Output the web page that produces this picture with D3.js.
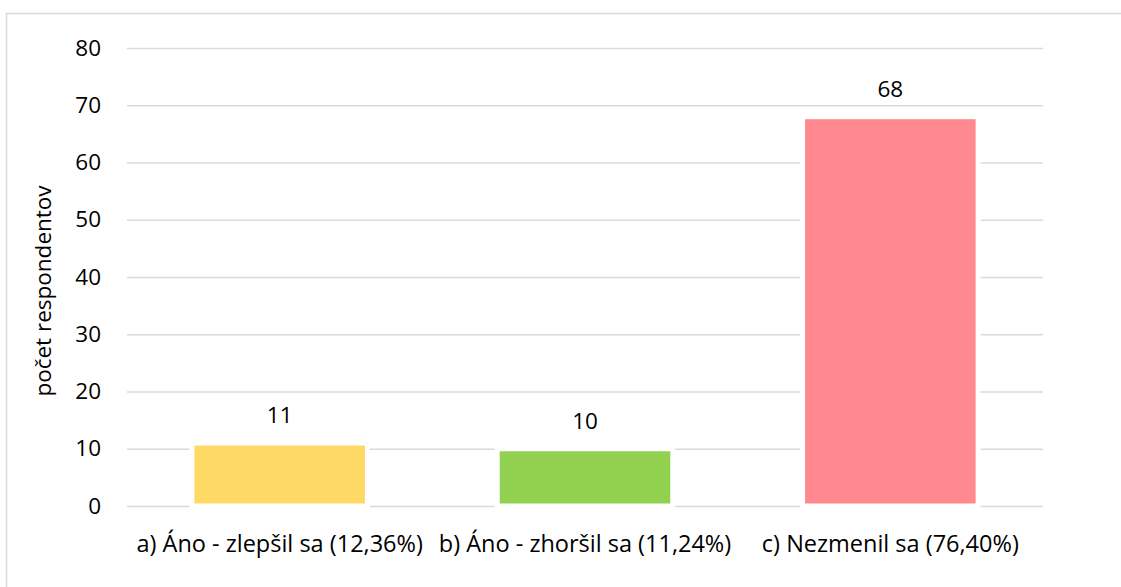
<!DOCTYPE html>
<html>
<head>
<meta charset="utf-8">
<script src="https://cdn.jsdelivr.net/npm/d3@7"></script>
<style>
  html, body { margin: 0; padding: 0; background: #fff; }
  svg { display: block; }
  text { font-family: "Open Sans", "Noto Sans", sans-serif; fill: #000; }
</style>
</head>
<body>
<svg id="chart" width="1121" height="587"></svg>
<script>
const categories = ["a) Áno - zlepšil sa (12,36%)", "b) Áno - zhoršil sa (11,24%)", "c) Nezmenil sa (76,40%)"];
const values = [11, 10, 68];
const colors = ["#FFD966", "#92D050", "#FF898E"];
const yTicks = [0, 10, 20, 30, 40, 50, 60, 70, 80];
const yTitle = "počet respondentov";

const FS = "22.5px";
const FSX = "23.5px";
const svg = d3.select("#chart");
const W = 1121, H = 587;
const margin = { left: 127, right: 1121 - 1043, top: 48, bottom: 587 - 506 };

// outer frame
svg.append("rect")
  .attr("x", 6.5).attr("y", 13.5)
  .attr("width", W + 20).attr("height", H + 20)
  .attr("fill", "#fff").attr("stroke", "#d9d9d9").attr("stroke-width", 1.5);

const x = d3.scaleBand()
  .domain(categories)
  .range([margin.left, W - margin.right])
  .paddingInner(0.425)
  .paddingOuter(0.2125);

const y = d3.scaleLinear()
  .domain([0, 80])
  .range([H - margin.bottom, margin.top]);

// gridlines
const yAxis = d3.axisLeft(y).tickValues(yTicks).tickSize(-(W - margin.left - margin.right)).tickPadding(26);
const gy = svg.append("g").attr("transform", `translate(${margin.left},0)`).call(yAxis);
gy.select(".domain").remove();
gy.selectAll(".tick line").attr("stroke", "#d9d9d9").attr("stroke-width", 1.5);
gy.selectAll(".tick text")
  .style("font-family", '"Open Sans", "Noto Sans", sans-serif')
  .style("font-size", FS)
  .attr("fill", "#000");

// bars
svg.append("g").selectAll("rect")
  .data(values)
  .join("rect")
  .attr("x", (d, i) => x(categories[i]))
  .attr("width", x.bandwidth())
  .attr("y", d => y(d))
  .attr("height", d => y(0) - y(d))
  .attr("fill", (d, i) => colors[i])
  .attr("stroke", "#fff")
  .attr("stroke-width", 5);

// value labels
svg.append("g").selectAll("text")
  .data(values)
  .join("text")
  .attr("x", (d, i) => x(categories[i]) + x.bandwidth() / 2)
  .attr("y", d => y(d) - 20)
  .attr("text-anchor", "middle")
  .style("font-size", FS)
  .text(d => d);

// x axis labels
const xAxis = d3.axisBottom(x).tickSize(0).tickPadding(0);
const gx = svg.append("g").attr("transform", `translate(0,${y(0)})`).call(xAxis);
gx.select(".domain").remove();
gx.selectAll(".tick text")
  .style("font-family", '"Open Sans", "Noto Sans", sans-serif')
  .style("font-size", FSX)
  .attr("fill", "#000")
  .attr("dy", null)
  .attr("y", 46);

// y title
svg.append("text")
  .attr("transform", `translate(51,${(y(0) + y(80)) / 2 + 14}) rotate(-90)`)
  .attr("text-anchor", "middle")
  .style("font-size", FS)
  .text(yTitle);
</script>
</body>
</html>
